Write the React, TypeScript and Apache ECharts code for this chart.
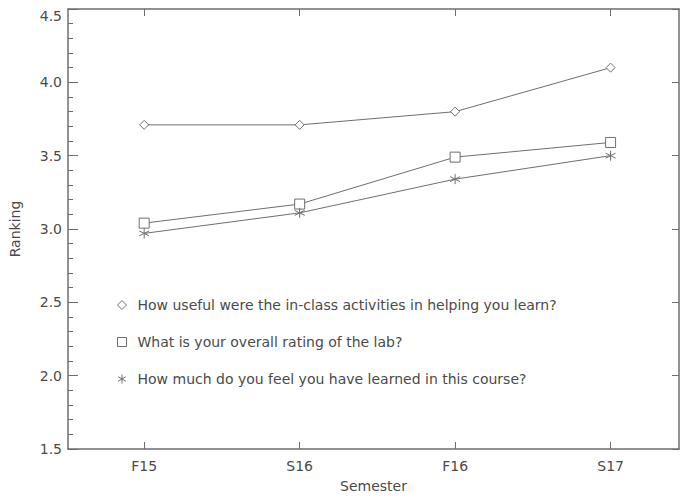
import React, { useEffect, useRef } from "react";
import * as echarts from "echarts";

const semesters = ["F15", "S16", "F16", "S17"];
const usefulActivities = [3.71, 3.71, 3.80, 4.10];
const labRating = [3.04, 3.17, 3.49, 3.59];
const learnedCourse = [2.97, 3.11, 3.34, 3.50];
const seriesNames = [
  "How useful were the in-class activities in helping you learn?",
  "What is your overall rating of the lab?",
  "How much do you feel you have learned in this course?",
];

const ASTERISK = "path://M5,0L5,10M0.7,2.5L9.3,7.5M0.7,7.5L9.3,2.5";
const GRAY = "#6e6e6e";
const TXT = "#4a4a4a";
const FONT = "DejaVu Sans";

export default function App() {
  const ref = useRef<HTMLDivElement>(null);
  useEffect(() => {
    const chart = echarts.init(ref.current!, null, { renderer: "svg" });
    const pts = (arr: number[]) => arr.map((v, i) => [i, v]);
    const mk = (name: string, data: number[], symbol: string, size: number) => ({
      type: "line",
      name,
      data: pts(data),
      symbol,
      symbolSize: size,
      showAllSymbol: true,
      lineStyle: { color: GRAY, width: 1 },
      itemStyle: { color: "#ffffff", borderColor: GRAY, borderWidth: 1 },
      emphasis: { disabled: true },
      z: 3,
    });
    const xCommon = {
      type: "value",
      min: -0.49,
      max: 3.44,
      splitLine: { show: false },
      axisLine: { show: true, onZero: false, lineStyle: { color: GRAY, width: 1.5 } },
    };
    const yCommon = {
      type: "value",
      min: 1.5,
      max: 4.5,
      interval: 0.5,
      splitLine: { show: false },
      axisLine: { show: true, onZero: false, lineStyle: { color: GRAY, width: 1.5 } },
    };
    chart.setOption({
      animation: false,
      backgroundColor: "#ffffff",
      textStyle: { fontFamily: FONT },
      grid: { left: 63, right: 1, top: 9, bottom: 46 },
      legend: {
        orient: "vertical",
        left: 117,
        top: 298,
        padding: 0,
        itemWidth: 9,
        itemHeight: 9,
        itemGap: 23,
        textStyle: { color: TXT, fontSize: 14, lineHeight: 14, fontFamily: FONT, padding: [0, 0, 0, 6] },
        data: [
          { name: seriesNames[0], icon: "diamond" },
          { name: seriesNames[1], icon: "rect" },
          { name: seriesNames[2], icon: ASTERISK },
        ],
        itemStyle: { color: "#ffffff", borderColor: GRAY, borderWidth: 1 },
      },
      xAxis: [
        {
          ...xCommon,
          position: "bottom",
          name: "Semester",
          nameLocation: "middle",
          nameGap: 30,
          nameTextStyle: { color: TXT, fontSize: 14, fontFamily: FONT },
          axisTick: { show: true, inside: true, length: 7, customValues: [0, 1, 2, 3], lineStyle: { color: GRAY } },
          axisLabel: {
            color: TXT,
            fontSize: 14,
            margin: 10,
            customValues: [0, 1, 2, 3],
            formatter: (v: number) => semesters[Math.round(v)] ?? "",
          },
        },
        {
          ...xCommon,
          position: "top",
          axisTick: { show: true, inside: true, length: 7, customValues: [0, 1, 2, 3], lineStyle: { color: GRAY } },
          axisLabel: { show: false },
        },
      ],
      yAxis: [
        {
          ...yCommon,
          position: "left",
          name: "Ranking",
          nameLocation: "middle",
          nameGap: 46,
          nameTextStyle: { color: TXT, fontSize: 14, fontFamily: FONT },
          axisTick: { show: true, inside: true, length: 10, lineStyle: { color: GRAY } },
          minorTick: { show: true, splitNumber: 5, length: 5, lineStyle: { color: GRAY } },
          axisLabel: {
            color: TXT,
            fontSize: 14,
            margin: 6,
            verticalAlignMaxLabel: "top",
            formatter: (v: number) => v.toFixed(1),
          },
        },
        {
          ...yCommon,
          position: "right",
          axisTick: { show: true, inside: true, length: 7, lineStyle: { color: GRAY } },
          axisLabel: { show: false },
        },
      ],
      series: [
        mk(seriesNames[0], usefulActivities, "diamond", 9),
        mk(seriesNames[1], labRating, "rect", 10),
        mk(seriesNames[2], learnedCourse, ASTERISK, 10),
      ],
    });
    return () => chart.dispose();
  }, []);
  return (
    <div
      ref={ref}
      style={{ position: "absolute", left: 0, top: 0, width: 680, height: 498, background: "#fff" }}
    />
  );
}
